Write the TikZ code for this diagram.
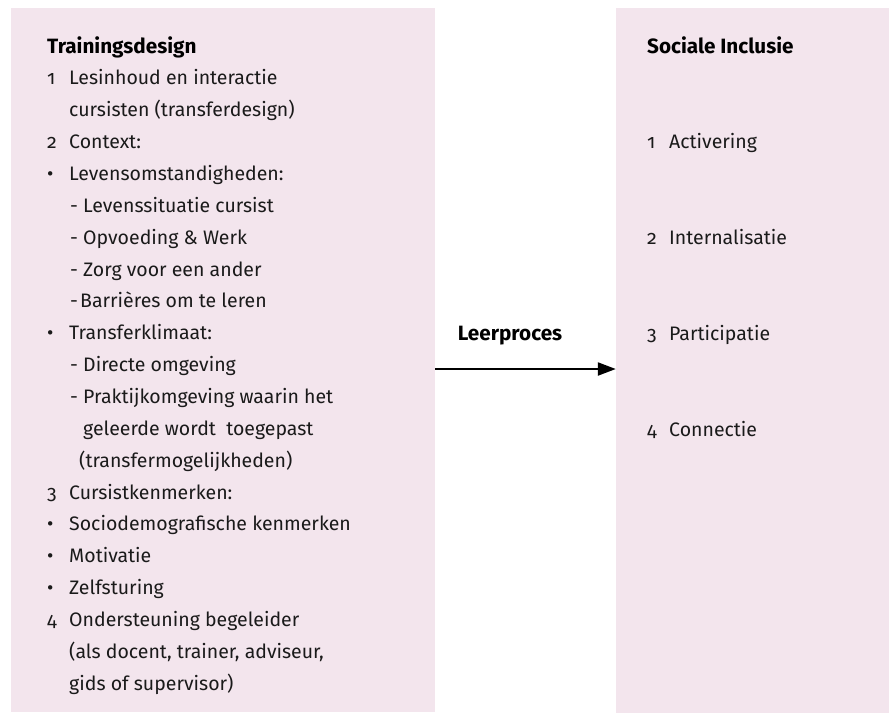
\documentclass[tikz,border=0pt]{standalone}
\usepackage{fontspec}
\setmainfont{Fira Sans}[Numbers=OldStyle]
\usetikzlibrary{arrows.meta}
\definecolor{boxpink}{HTML}{F3E5ED}
\definecolor{ink}{HTML}{1A1A1A}
\tikzset{
  panel/.style={fill=boxpink, draw=none, inner sep=0pt},
  txt/.style={anchor=mid west, inner sep=0pt, yshift=-4.5pt, text=ink, font=\fontsize{19.5}{22}\selectfont},
  head/.style={anchor=mid west, inner sep=0pt, yshift=-4.5pt, text=black, font=\fontsize{20.7}{22}\selectfont\bfseries},
  flow/.style={line width=2.2pt, draw=black, -{Triangle[length=18pt,width=13pt]}}
}
\begin{document}
\begin{tikzpicture}[x=1pt,y=-1pt]
\useasboundingbox (0,0) rectangle (890,716);
\node[panel, minimum width=424pt, minimum height=704pt] (L) at (223,360) {};
\node[panel, minimum width=273pt, minimum height=705pt] (R) at (752.5,360.5) {};
% left column
\def\rowy#1{46+31.85*#1}
\node[head] (t0) at (47,{\rowy{0}}) {Trainingsdesign};
\node[txt] (n1) at (47,{\rowy{1}}) {1};
\node[txt] (t1) at (69,{\rowy{1}}) {Lesinhoud en interactie};
\node[txt] (t2) at (69,{\rowy{2}}) {cursisten (transferdesign)};
\node[txt] (n2) at (47,{\rowy{3}}) {2};
\node[txt] (t3) at (69,{\rowy{3}}) {Context:};
\node[txt] (b4) at (47,{\rowy{4}}) {•};
\node[txt] (t4) at (69,{\rowy{4}}) {Levensomstandigheden:};
\node[txt] (d5) at (70,{\rowy{5}}) {-};
\node[txt] (t5) at (83,{\rowy{5}}) {Levenssituatie cursist};
\node[txt] (d6) at (70,{\rowy{6}}) {-};
\node[txt] (t6) at (83,{\rowy{6}}) {Opvoeding \& Werk};
\node[txt] (d7) at (70,{\rowy{7}}) {-};
\node[txt] (t7) at (83,{\rowy{7}}) {Zorg voor een ander};
\node[txt] (d8) at (70,{\rowy{8}}) {-};
\node[txt] (t8) at (80,{\rowy{8}}) {Barrières om te leren};
\node[txt] (b9) at (47,{\rowy{9}}) {•};
\node[txt] (t9) at (69,{\rowy{9}}) {Transferklimaat:};
\node[txt] (d10) at (70,{\rowy{10}}) {-};
\node[txt] (t10) at (83,{\rowy{10}}) {Directe omgeving};
\node[txt] (d11) at (70,{\rowy{11}}) {-};
\node[txt] (t11) at (83,{\rowy{11}}) {Praktijkomgeving waarin het};
\node[txt] (t12) at (83,{\rowy{12}}) {geleerde wordt\ \ toegepast};
\node[txt] (t13) at (79,{\rowy{13}}) {(transfermogelijkheden)};
\node[txt] (n14) at (47,{\rowy{14}}) {3};
\node[txt] (t14) at (69,{\rowy{14}}) {Cursistkenmerken:};
\node[txt] (b15) at (47,{\rowy{15}}) {•};
\node[txt] (t15) at (69,{\rowy{15}}) {Sociodemografische kenmerken};
\node[txt] (b16) at (47,{\rowy{16}}) {•};
\node[txt] (t16) at (69,{\rowy{16}}) {Motivatie};
\node[txt] (b17) at (47,{\rowy{17}}) {•};
\node[txt] (t17) at (69,{\rowy{17}}) {Zelfsturing};
\node[txt] (n18) at (47,{\rowy{18}}) {4};
\node[txt] (t18) at (69,{\rowy{18}}) {Ondersteuning begeleider};
\node[txt] (t19) at (69,{\rowy{19}}) {(als docent, trainer, adviseur,};
\node[txt] (t20) at (69,{\rowy{20}}) {gids of supervisor)};
% right column
\node[head] (s0) at (647,46) {Sociale Inclusie};
\node[txt] (m1) at (647,141) {1};
\node[txt] (s1) at (669,141) {Activering};
\node[txt] (m2) at (647,237) {2};
\node[txt] (s2) at (669,237) {Internalisatie};
\node[txt] (m3) at (647,333) {3};
\node[txt] (s3) at (669,333) {Participatie};
\node[txt] (m4) at (647,429) {4};
\node[txt] (s4) at (669,429) {Connectie};
% arrow
\node[head, anchor=mid] (lp) at (510,333) {Leerproces};
\coordinate (ay) at (0,369);
\draw[flow] (L.east |- ay) -- (R.west |- ay);
\end{tikzpicture}
\end{document}
